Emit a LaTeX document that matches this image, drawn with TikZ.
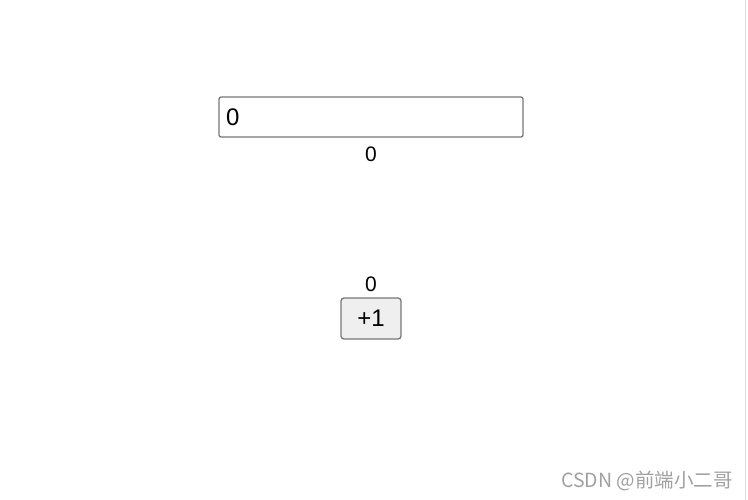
\documentclass[tikz,border=0pt]{standalone}
\usepackage{fontspec}
\setmainfont{Liberation Sans}
\newfontfamily\cjk{Noto Sans CJK SC}
\definecolor{boxgray}{HTML}{767676}
\definecolor{btnfill}{HTML}{EFEFEF}
\definecolor{markgray}{HTML}{A0A0A0}
\definecolor{edgegray}{HTML}{DDDDDD}
\begin{document}
\begin{tikzpicture}[x=1pt, y=-1pt, every node/.style={inner sep=0pt}]
	\useasboundingbox (0,0) rectangle (748,500);
	\draw[edgegray, line width=1.2pt] (745.5,0)--(745.5,500);
	% input field and its value
	\node[draw=boxgray, line width=1.3pt, rounded corners=2pt, minimum width=304pt, minimum height=40pt] (field) at (371,117) {};
	\node[anchor=west, font=\fontsize{24}{28}\selectfont] (fieldval) at (226,117) {0};
	\node[font=\fontsize{21}{25}\selectfont] (shown) at (371,154) {0};
	% counter and button
	\node[font=\fontsize{21}{25}\selectfont] (count) at (371,284) {0};
	\node[draw=boxgray, fill=btnfill, line width=1.3pt, rounded corners=3pt, minimum width=60pt, minimum height=41pt, font=\fontsize{24}{28}\selectfont] (plus) at (371,318.5) {+1};
	\node[anchor=east, text=markgray, font=\cjk\fontsize{19.5}{22}\selectfont] (mark) at (733,481) {CSDN @前端小二哥};
\end{tikzpicture}
\end{document}
